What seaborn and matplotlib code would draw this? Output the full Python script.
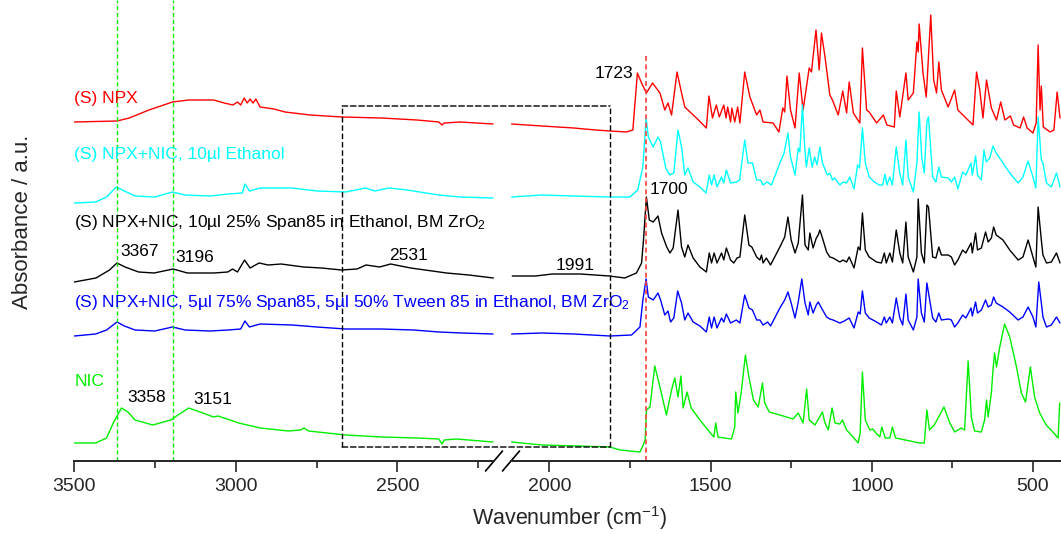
import numpy as np
import pandas as pd
import matplotlib
matplotlib.use("Agg")
import matplotlib.pyplot as plt
import seaborn as sns
from matplotlib.patches import ConnectionPatch

# ---------------- data (wavenumber in cm-1, stacked absorbance in a.u.) ----------------
NPX_WN = [3500, 3368, 3330, 3269, 3196, 3146, 3069, 3036, 3009, 2995, 2985, 2974, 2965, 2956, 2947, 2938,
          2925, 2882, 2848, 2770, 2671, 2550, 2439, 2372, 2362, 2355, 2306, 2204,
          2117, 2023, 1924, 1857, 1812, 1761, 1741, 1727, 1714, 1699, 1680, 1657, 1642, 1632, 1621, 1604,
          1590, 1580, 1544, 1513, 1505, 1494, 1482, 1473, 1459, 1452, 1447, 1438, 1434, 1425, 1416, 1409,
          1394, 1378, 1357, 1347, 1337, 1306, 1288, 1276, 1270, 1263, 1252, 1238, 1225, 1213, 1194, 1187,
          1173, 1163, 1156, 1145, 1130, 1122, 1104, 1090, 1078, 1070, 1057, 1037, 1029, 1016, 1008, 985,
          964, 953, 930, 924, 913, 894, 887, 871, 860, 856, 853, 841, 831, 817, 808, 799, 792, 784, 763,
          743, 733, 686, 675, 665, 655, 644, 629, 613, 600, 587, 570, 560, 540, 529, 518, 500, 490, 484,
          478, 474, 468, 447, 435, 425, 416]
NPX_ABS = [339, 340, 343, 351, 359, 361, 361, 358, 356, 359, 356, 363, 358, 362, 358, 362,
           354, 352, 349, 346, 344, 343, 341, 339, 336, 338, 339, 337,
           337, 335, 333, 331, 330, 329, 331, 388, 378, 368, 378, 368, 351, 358, 346, 389,
           368, 354, 343, 333, 365, 343, 356, 344, 356, 343, 354, 339, 353, 339, 354, 338,
           389, 364, 346, 351, 339, 338, 329, 353, 349, 385, 351, 333, 388, 351, 393, 389,
           431, 391, 428, 404, 366, 361, 346, 370, 348, 379, 348, 338, 413, 351, 349, 338,
           346, 336, 334, 370, 344, 388, 361, 368, 419, 409, 437, 388, 364, 446, 381, 368, 399, 371, 354,
           371, 351, 336, 389, 371, 343, 381, 353, 341, 359, 341, 345, 336, 333, 344, 333, 328, 338, 416,
           351, 375, 334, 329, 331, 369, 343]

ETH_WN = [3500, 3434, 3400, 3370, 3345, 3312, 3251, 3196, 3157, 3080, 3024, 2980, 2972, 2958, 2925, 2826,
          2749, 2660, 2599, 2570, 2527, 2470, 2372, 2306, 2204,
          2117, 2023, 1924, 1812, 1750, 1726, 1710, 1700, 1693, 1678, 1663, 1655, 1639, 1626, 1614, 1601,
          1590, 1580, 1570, 1554, 1533, 1514, 1504, 1497, 1489, 1480, 1466, 1459, 1451, 1438, 1420, 1410,
          1394, 1384, 1370, 1357, 1345, 1337, 1325, 1311, 1285, 1272, 1260, 1252, 1238, 1228, 1223, 1215,
          1208, 1203, 1194, 1185, 1177, 1170, 1161, 1153, 1138, 1130, 1122, 1115, 1099, 1089, 1078, 1068,
          1055, 1044, 1038, 1029, 1020, 1008, 992, 977, 966, 959, 953, 944, 936, 924, 913, 904, 894, 887,
          871, 860, 853, 845, 837, 829, 824, 811, 801, 792, 784, 763, 753, 743, 733, 718, 708, 692, 688,
          678, 672, 660, 652, 645, 634, 624, 614, 593, 572, 546, 531, 515, 500, 491, 484, 474, 469, 458,
          443, 427, 416]
ETH_ABS = [258, 259, 264, 274, 270, 265, 264, 269, 266, 265, 267, 268, 277, 270, 273, 273,
           270, 269, 273, 270, 273, 271, 266, 264, 263,
           264, 266, 265, 264, 264, 271, 294, 343, 324, 314, 324, 319, 293, 286, 288, 331,
           314, 286, 293, 279, 274, 268, 286, 276, 286, 274, 284, 278, 291, 278, 279, 281,
           321, 298, 298, 281, 281, 276, 279, 276, 298, 308, 328, 304, 286, 313, 309, 356,
           314, 294, 313, 294, 304, 296, 314, 298, 286, 288, 281, 283, 276, 279, 278, 284,
           272, 296, 293, 333, 298, 284, 279, 276, 276, 287, 276, 284, 276, 314, 288, 276, 321, 284,
           269, 298, 349, 304, 288, 339, 344, 284, 279, 294, 284, 283, 279, 284, 272, 289, 286, 298, 286,
           305, 286, 281, 311, 299, 303, 315, 308, 298, 288, 278, 284, 300, 284, 273, 344, 301, 298, 278,
           274, 288, 274]

SPAN_WN = [3500, 3433, 3391, 3368, 3343, 3301, 3253, 3194, 3150, 3068, 3025, 3010, 2995, 2973, 2956, 2928,
           2900, 2860, 2790, 2735, 2673, 2625, 2597, 2555, 2521, 2459, 2348, 2279, 2203,
           2115, 2043, 1991, 1904, 1814, 1766, 1730, 1714, 1708, 1699, 1690, 1678, 1663, 1652, 1636, 1626,
           1616, 1601, 1590, 1580, 1570, 1554, 1533, 1513, 1504, 1497, 1489, 1480, 1466, 1459, 1451, 1438,
           1428, 1418, 1409, 1394, 1381, 1372, 1357, 1347, 1342, 1337, 1327, 1314, 1285, 1270, 1260, 1250,
           1238, 1228, 1215, 1207, 1197, 1192, 1182, 1172, 1166, 1161, 1153, 1140, 1130, 1120, 1099, 1089,
           1078, 1070, 1055, 1042, 1036, 1029, 1020, 1008, 985, 970, 961, 955, 944, 936, 924, 913, 904,
           894, 887, 871, 860, 856, 846, 837, 829, 824, 811, 801, 792, 784, 763, 753, 743, 733, 718, 708,
           692, 688, 678, 672, 660, 647, 639, 629, 622, 614, 593, 572, 546, 531, 515, 500, 491, 484, 474,
           469, 458, 443, 427, 416]
SPAN_ABS = [179, 183, 191, 198, 194, 189, 188, 192, 188, 188, 189, 192, 189, 201, 193, 198,
            196, 197, 194, 193, 191, 192, 196, 194, 197, 193, 188, 186, 183,
            185, 185, 187, 187, 185, 183, 188, 198, 221, 264, 241, 239, 245, 228, 214, 208,
            213, 251, 214, 204, 216, 203, 194, 189, 208, 198, 208, 198, 208, 201, 213, 201,
            198, 203, 204, 246, 216, 214, 204, 201, 206, 198, 203, 196, 214, 224, 244, 221,
            208, 218, 266, 216, 211, 228, 213, 223, 226, 231, 223, 209, 204, 203, 199, 201,
            199, 204, 193, 214, 211, 248, 211, 204, 199, 198, 208, 198, 208, 199, 231, 208, 198,
            239, 204, 189, 204, 262, 208, 198, 256, 254, 204, 203, 214, 206, 206, 204, 196, 201, 211, 208,
            218, 208, 228, 211, 213, 229, 219, 223, 234, 226, 221, 211, 201, 204, 221, 204, 194, 254, 221,
            206, 198, 199, 208, 198]

TWEEN_WN = [3500, 3434, 3400, 3368, 3345, 3312, 3251, 3196, 3157, 3080, 3024, 2985, 2972, 2958, 2925, 2826,
            2749, 2660, 2550, 2450, 2372, 2300, 2204,
            2117, 2023, 1924, 1812, 1745, 1719, 1710, 1700, 1693, 1678, 1663, 1655, 1642, 1632, 1624, 1614,
            1602, 1590, 1580, 1570, 1554, 1533, 1513, 1504, 1497, 1489, 1480, 1466, 1459, 1451, 1438, 1420,
            1409, 1394, 1381, 1370, 1357, 1347, 1337, 1323, 1314, 1285, 1270, 1260, 1250, 1238, 1228, 1217,
            1207, 1197, 1192, 1182, 1172, 1166, 1156, 1140, 1130, 1120, 1099, 1085, 1070, 1055, 1042, 1036,
            1029, 1020, 1008, 985, 970, 961, 955, 944, 936, 924, 913, 904, 894, 887, 871, 860, 856, 846,
            837, 829, 811, 801, 792, 784, 763, 753, 743, 733, 718, 708, 692, 688, 678, 672, 660, 647, 639,
            629, 622, 614, 593, 572, 546, 531, 515, 500, 491, 482, 474, 469, 458, 443, 427, 416]
TWEEN_ABS = [125, 127, 131, 139, 135, 131, 130, 134, 131, 130, 131, 132, 140, 134, 137, 136,
             134, 132, 132, 131, 129, 128, 127,
             127, 128, 127, 125, 126, 134, 161, 182, 164, 161, 168, 161, 146, 150, 139, 143,
             170, 158, 141, 148, 139, 135, 129, 144, 133, 144, 133, 143, 139, 147, 138, 141,
             138, 166, 153, 151, 141, 141, 136, 139, 135, 153, 161, 169, 158, 143, 159, 182,
             158, 146, 159, 148, 156, 159, 153, 144, 142, 141, 138, 140, 143, 133, 149, 147,
             170, 148, 143, 139, 136, 144, 138, 144, 138, 163, 143, 136, 167, 141, 131, 144, 182, 148,
             139, 178, 143, 139, 148, 141, 142, 141, 134, 138, 146, 143, 153, 145, 159, 148, 151, 161, 154,
             156, 164, 158, 154, 149, 141, 144, 154, 144, 134, 179, 158, 144, 134, 136, 144, 138]

NIC_WN = [3500, 3434, 3400, 3378, 3354, 3334, 3312, 3257, 3202, 3179, 3146, 3102, 3069, 3055, 2991, 2925,
          2837, 2800, 2789, 2775, 2660, 2549, 2439, 2372, 2362, 2355, 2317, 2204,
          2117, 2023, 1912, 1812, 1781, 1719, 1710, 1703, 1699, 1688, 1673, 1657, 1637, 1621, 1611, 1601,
          1592, 1585, 1573, 1560, 1533, 1503, 1490, 1484, 1477, 1457, 1435, 1425, 1422, 1415, 1405, 1392,
          1381, 1367, 1352, 1339, 1332, 1318, 1285, 1254, 1244, 1228, 1213, 1202, 1194, 1176, 1153, 1145,
          1135, 1123, 1114, 1099, 1091, 1078, 1058, 1042, 1036, 1029, 1020, 1006, 997, 987, 975, 969, 958,
          944, 936, 926, 851, 837, 829, 821, 806, 776, 758, 743, 722, 712, 701, 691, 681, 660, 650, 644,
          639, 629, 624, 619, 613, 603, 588, 572, 551, 536, 523, 508, 495, 479, 459, 438, 422, 417]
NIC_ABS = [18, 18, 23, 39, 53, 49, 41, 36, 41, 46, 53, 48, 44, 45, 38, 33,
           30, 31, 33, 30, 26, 24, 23, 22, 17, 21, 22, 19,
           19, 16, 15, 14, 11, 9, 15, 21, 51, 54, 95, 74, 46, 71, 83, 64,
           85, 53, 69, 53, 41, 29, 24, 38, 24, 23, 22, 34, 69, 48, 68, 106,
           84, 61, 54, 78, 58, 49, 46, 43, 42, 48, 38, 72, 41, 36, 49, 38,
           31, 53, 38, 37, 41, 31, 24, 18, 28, 89, 41, 31, 32, 28, 24, 34, 23,
           23, 34, 23, 18, 18, 51, 31, 36, 54, 38, 29, 33, 31, 100, 44, 30, 29, 41, 61,
           44, 68, 91, 108, 94, 114, 137, 124, 94, 68, 59, 94, 64, 48, 36, 29, 23, 58]

SAMPLES = ["NPX", "NPX+NIC Ethanol", "NPX+NIC Span85", "NPX+NIC Span85/Tween85", "NIC"]
COLORS = ["#ff0000", "#00ffff", "#000000", "#0000ff", "#00ee00"]
LABELS = ["(S) NPX", "(S) NPX+NIC, 10\u00b5l Ethanol",
          "(S) NPX+NIC, 10\u00b5l 25% Span85 in Ethanol, BM ZrO$_2$",
          "(S) NPX+NIC, 5\u00b5l 75% Span85, 5\u00b5l 50% Tween 85 in Ethanol, BM ZrO$_2$",
          "NIC"]
LABEL_Y = [362, 306, 238, 158, 79]
PEAK_TEXT = ["3367", "3196", "2531", "1991", "1723", "1700", "3358", "3151"]
PEAK_X = [3358, 3188, 2526, 1980, 1859, 1688, 3337, 3132]
PEAK_Y = [209, 204, 206, 195, 388, 272, 63, 61]
GUIDES_GREEN = [3367, 3196]
GUIDE_RED = 1700
BOX_X = [2671, 1812]
BOX_Y = [14, 355]

frames = []
for name, wn, ab in zip(SAMPLES, [NPX_WN, ETH_WN, SPAN_WN, TWEEN_WN, NIC_WN],
                        [NPX_ABS, ETH_ABS, SPAN_ABS, TWEEN_ABS, NIC_ABS]):
    frames.append(pd.DataFrame({"wn": wn, "abs": ab, "sample": name}))
df = pd.concat(frames, ignore_index=True)

# ---------------- style ----------------
sns.set_style("white")
plt.rcParams["font.family"] = ["Liberation Sans", "DejaVu Sans"]
plt.rcParams["mathtext.fontset"] = "custom"
plt.rcParams["mathtext.rm"] = "Liberation Sans"
plt.rcParams["mathtext.it"] = "Liberation Sans:italic"
plt.rcParams["mathtext.bf"] = "Liberation Sans:bold"

W, H = 1061, 534
fig = plt.figure(figsize=(W / 100, H / 100), dpi=100)
AXB = 461
axL = fig.add_axes([74.3 / W, (H - AXB) / H, (494 - 74.3) / W, AXB / H])
axR = fig.add_axes([511 / W, (H - AXB) / H, (1061 - 511) / W, AXB / H])
axL.set_xlim(3500, 2201)
axR.set_xlim(2119, 413)

pal = dict(zip(SAMPLES, COLORS))
sns.lineplot(data=df[df.wn >= 2195], x="wn", y="abs", hue="sample", palette=pal,
             estimator=None, legend=False, lw=1.0, ax=axL)
sns.lineplot(data=df[df.wn <= 2125], x="wn", y="abs", hue="sample", palette=pal,
             estimator=None, legend=False, lw=1.0, ax=axR)

for ax in (axL, axR):
    ax.set_ylim(0, AXB)
    ax.set_yticks([])
    ax.set_xlabel("")
    ax.set_ylabel("")
    ax.patch.set_alpha(0)
    for s in ("left", "right", "top"):
        ax.spines[s].set_visible(False)
    ax.spines["bottom"].set_linewidth(1.4)
    ax.tick_params(axis="x", which="major", direction="out", length=8, width=1.2,
                   labelsize=14, pad=4, bottom=True)
    ax.tick_params(axis="x", which="minor", direction="out", length=5, width=1.2, bottom=True)

axL.set_xticks([3500, 3000, 2500])
axL.set_xticks([3250, 2750, 2250], minor=True)
axR.set_xticks([2000, 1500, 1000, 500])
axR.set_xticks([1750, 1250, 750], minor=True)

dash = (0, (3, 2))
for g in GUIDES_GREEN:
    axL.axvline(g, color="#00ee00", lw=1.0, ls=dash)
axR.plot([GUIDE_RED, GUIDE_RED], [0, 408], color="#ff4040", lw=1.2, ls=dash)

# dashed box spanning the break
axL.plot([BOX_X[0], BOX_X[0]], BOX_Y, color="black", lw=1.0, ls=(0, (4, 2)))
axR.plot([BOX_X[1], BOX_X[1]], BOX_Y, color="black", lw=1.0, ls=(0, (4, 2)))
for yy in BOX_Y:
    cp = ConnectionPatch(xyA=(BOX_X[0], yy), coordsA=axL.transData,
                         xyB=(BOX_X[1], yy), coordsB=axR.transData,
                         color="black", lw=1.0, ls=(0, (4, 2)))
    fig.add_artist(cp)

# axis break marks
dx, dy = 8.5 / (494 - 74.3), 10 / AXB
axL.plot([1 - dx, 1 + dx], [-dy, dy], transform=axL.transAxes, color="black", lw=1.2, clip_on=False)
dx2 = 8.5 / (1061 - 511)
axR.plot([-dx2, dx2], [-dy, dy], transform=axR.transAxes, color="black", lw=1.2, clip_on=False)

# sample labels
for lab, yv, c in zip(LABELS, LABEL_Y, COLORS):
    axL.text(3500, yv, lab, color=c, fontsize=12.5, ha="left", va="center", clip_on=False)

# peak labels
for t, xv, yv in zip(PEAK_TEXT, PEAK_X, PEAK_Y):
    ax = axL if xv > 2200 else axR
    ax.text(xv, yv, t, color="black", fontsize=12.5, ha="left", va="center", clip_on=False)

fig.text(570 / W, 1 - 518 / H, "Wavenumber (cm$^{-1}$)", fontsize=15.5, ha="center", va="center")
fig.text(23 / W, 1 - 222 / H, "Absorbance / a.u.", fontsize=16, ha="center", va="center", rotation=90)

fig.savefig("out.png", dpi=100)
